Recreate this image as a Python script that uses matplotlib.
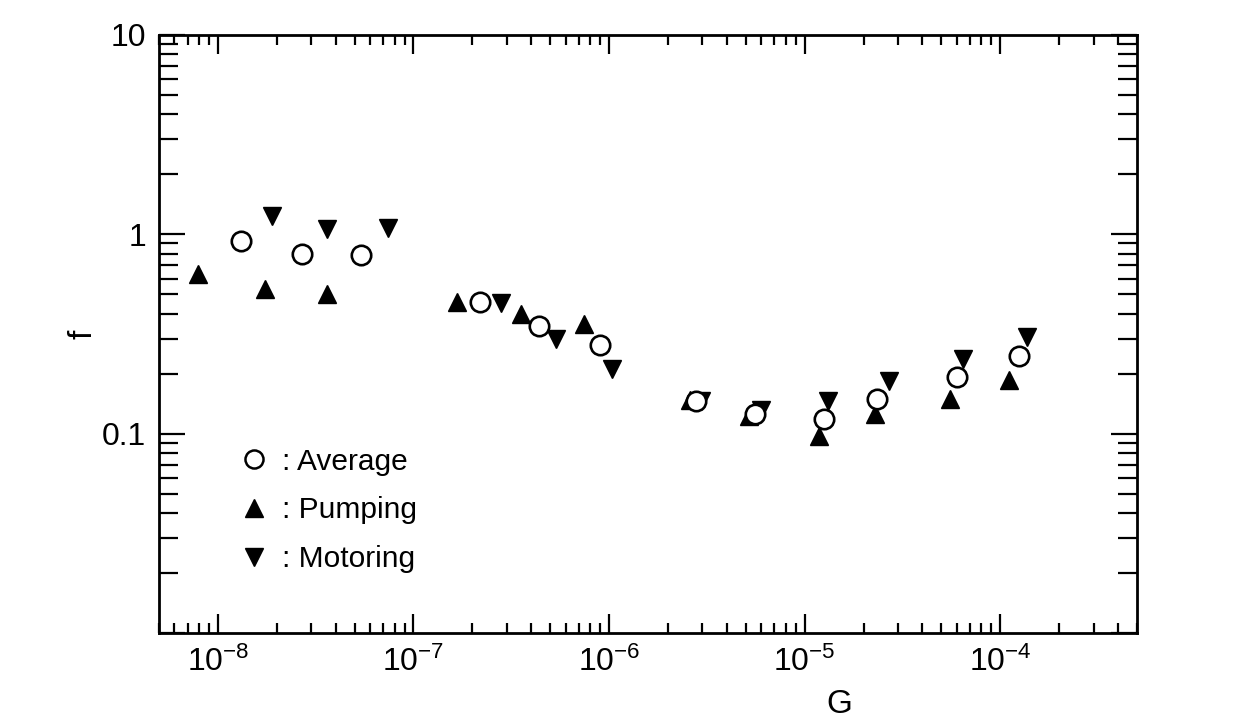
import numpy as np
import matplotlib
matplotlib.use("Agg")
import matplotlib.pyplot as plt
from matplotlib.lines import Line2D

plt.rcParams["font.family"] = ["Liberation Sans", "DejaVu Sans"]
plt.rcParams["mathtext.fontset"] = "custom"
plt.rcParams["mathtext.rm"] = "Liberation Sans"
plt.rcParams["mathtext.it"] = "Liberation Sans:italic"

# ========= data =========
G_avg = [1.32e-8, 2.68e-8, 5.4e-8, 2.2e-7, 4.4e-7, 9.0e-7,
         2.78e-6, 5.6e-6, 1.25e-5, 2.33e-5, 6.0e-5, 1.25e-4]
f_avg = [0.93, 0.80, 0.79, 0.457, 0.347, 0.28,
         0.146, 0.126, 0.119, 0.150, 0.193, 0.245]

G_pump = [7.9e-9, 1.74e-8, 3.6e-8, 1.66e-7, 3.56e-7, 7.45e-7,
          2.6e-6, 5.2e-6, 1.19e-5, 2.3e-5, 5.56e-5, 1.11e-4]
f_pump = [0.63, 0.53, 0.50, 0.46, 0.40, 0.355,
          0.148, 0.122, 0.097, 0.126, 0.150, 0.186]

G_mot = [1.89e-8, 3.6e-8, 7.4e-8, 2.81e-7, 5.37e-7, 1.03e-6,
         2.95e-6, 5.95e-6, 1.32e-5, 2.69e-5, 6.47e-5, 1.37e-4]
f_mot = [1.23, 1.06, 1.08, 0.45, 0.30, 0.21,
         0.146, 0.131, 0.146, 0.184, 0.237, 0.305]

legend_labels = [": Average", ": Pumping", ": Motoring"]

# ========= figure =========
fig = plt.figure(figsize=(12.41, 7.23), dpi=100)
ax = fig.add_axes([0.1281, 0.1245, 0.7881, 0.8271])

ax.set_xscale("log")
ax.set_yscale("log")
ax.set_xlim(5e-9, 5e-4)
ax.set_ylim(0.01, 10)

ax.plot(G_pump, f_pump, linestyle="none", marker="^", ms=13.5,
        color="black", zorder=3)
ax.plot(G_mot, f_mot, linestyle="none", marker="v", ms=13.5,
        color="black", zorder=3)
ax.plot(G_avg, f_avg, linestyle="none", marker="o", ms=14,
        mfc="white", mec="black", mew=1.9, zorder=4)

# ticks
ax.tick_params(which="both", direction="in", top=True, right=True,
               labelsize=23, width=1.6, color="black")
ax.tick_params(axis="y", which="major", length=19, pad=9)
ax.tick_params(axis="y", which="minor", length=14)
ax.tick_params(axis="x", which="major", length=14, pad=10)
ax.tick_params(axis="x", which="minor", length=7.5)

ax.set_yticks([0.01, 0.1, 1, 10])
ax.set_yticklabels(["", "0.1", "1", "10"])
ax.set_xticks([1e-8, 1e-7, 1e-6, 1e-5, 1e-4])
ax.set_xticklabels([r"$10^{-8}$", r"$10^{-7}$", r"$10^{-6}$",
                    r"$10^{-5}$", r"$10^{-4}$"])

for s in ax.spines.values():
    s.set_linewidth(2.0)

ax.set_xlabel("G", fontsize=24)
ax.xaxis.set_label_coords(0.696, -0.093)
ax.set_ylabel("f", fontsize=24)
ax.yaxis.set_label_coords(-0.062, 0.5)

# legend
handles = [
    Line2D([], [], linestyle="none", marker="o", ms=13, mfc="white",
           mec="black", mew=1.8),
    Line2D([], [], linestyle="none", marker="^", ms=13, color="black"),
    Line2D([], [], linestyle="none", marker="v", ms=13, color="black"),
]
ax.legend(handles, legend_labels, loc="upper left", numpoints=1,
          bbox_to_anchor=(0.0695, 0.330), frameon=False, fontsize=21.5,
          handlelength=1.0, handletextpad=0.43, labelspacing=0.7,
          borderaxespad=0)

fig.savefig("out.png", dpi=100)
